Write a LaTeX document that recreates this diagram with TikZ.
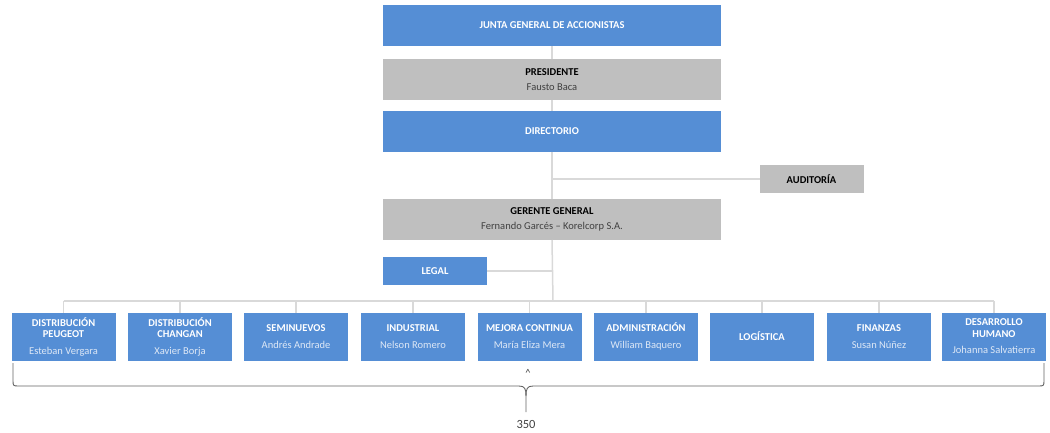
\documentclass[tikz,border=0pt]{standalone}
\usepackage{fontspec}
\setmainfont{Carlito}
\usepackage{tikz}

\definecolor{azulorg}{RGB}{85,142,213}
\definecolor{grisorg}{RGB}{191,191,191}
\definecolor{lineaorg}{RGB}{217,217,217}
\definecolor{nombreazul}{RGB}{222,232,246}
\definecolor{nombregris}{RGB}{64,64,64}
\definecolor{llaveorg}{RGB}{100,100,100}

\newcommand{\nomazul}[1]{{\mdseries\color{nombreazul}#1}}
\newcommand{\nomgris}[1]{{\mdseries\color{nombregris}#1}}

\tikzset{
	every node/.style={
		font=\fontsize{10.5}{11.5}\selectfont
	},
	caja/.style={
		shape=rectangle,
		inner sep=1pt,
		outer sep=0pt,
		align=center,
		font=\bfseries\fontsize{10.5}{11.5}\selectfont
	},
	azul/.style={
		caja,
		fill=azulorg,
		text=white
	},
	gris/.style={
		caja,
		fill=grisorg,
		text=black
	},
	ancho/.style={
		minimum width=338,
		minimum height=41
	},
	corto/.style={
		minimum width=104,
		minimum height=28
	},
	area/.style={
		minimum width=104,
		minimum height=48
	},
	linea/.style={
		draw=lineaorg,
		line width=1.5pt
	},
	llave/.style={
		draw=llaveorg,
		line width=0.9pt
	}
}

\begin{document}
\begin{tikzpicture}[x=1pt, y=-1pt]
	\useasboundingbox (0,0) rectangle (1050,432);
	
	% cabeza
	\node[azul, ancho] (junta) at (552,25.5) {JUNTA GENERAL DE ACCIONISTAS};
	\node[gris, ancho] (presidente) at (552,79.5) {PRESIDENTE\\[4pt]\nomgris{Fausto Baca}};
	\node[azul, ancho] (directorio) at (552,131.5) {DIRECTORIO};
	\node[gris, corto] (auditoria) at (811.5,179) {AUDITORÍA};
	\node[gris, ancho] (gerente) at (552,219.5) {GERENTE GENERAL\\[4pt]\nomgris{Fernando Garcés -- Korelcorp S.A.}};
	\node[azul, corto] (legal) at (435,271) {LEGAL};
	
	% areas
	\node[azul, area] (peugeot)    at (63.5,336.5) {DISTRIBUCIÓN\\PEUGEOT\\[5pt]\nomazul{Esteban Vergara}};
	\node[azul, area] (changan)    at (180,336.5)  {DISTRIBUCIÓN\\CHANGAN\\[5pt]\nomazul{Xavier Borja}};
	\node[azul, area] (seminuevos) at (296,336.5)  {SEMINUEVOS\\[5pt]\nomazul{Andrés Andrade}};
	\node[azul, area] (industrial) at (413,336.5)  {INDUSTRIAL\\[5pt]\nomazul{Nelson Romero}};
	\node[azul, area] (mejora)     at (529.5,336.5) {MEJORA CONTINUA\\[5pt]\nomazul{María Eliza Mera}};
	\node[azul, area] (admin)      at (646,336.5)  {ADMINISTRACIÓN\\[5pt]\nomazul{William Baquero}};
	\node[azul, area] (logistica)  at (762,336.5)  {LOGÍSTICA};
	\node[azul, area] (finanzas)   at (879,336.5)  {FINANZAS\\[5pt]\nomazul{Susan Núñez}};
	\node[azul, area] (humano)     at (994,336.5)  {DESARROLLO\\HUMANO\\[5pt]\nomazul{Johanna Salvatierra}};
	
	\coordinate (bus) at (553,301);
	
	\draw[linea] (junta.south) -- (presidente.north);
	\draw[linea] (presidente.south) -- (directorio.north);
	\draw[linea] (directorio.south) -- (gerente.north);
	\draw[linea] (gerente.south) -- (bus);
	\draw[linea] (directorio.south |- auditoria.west) -- (auditoria.west);
	\draw[linea] (legal.east) -- (legal.east -| bus);
	
	\draw[linea] (peugeot.north |- bus) -- (humano.north |- bus);
	\draw[linea] (peugeot.north) -- (peugeot.north |- bus);
	\draw[linea] (changan.north) -- (changan.north |- bus);
	\draw[linea] (seminuevos.north) -- (seminuevos.north |- bus);
	\draw[linea] (industrial.north) -- (industrial.north |- bus);
	\draw[linea] (mejora.north) -- (mejora.north |- bus);
	\draw[linea] (admin.north) -- (admin.north |- bus);
	\draw[linea] (logistica.north) -- (logistica.north |- bus);
	\draw[linea] (finanzas.north) -- (finanzas.north |- bus);
	\draw[linea] (humano.north) -- (humano.north |- bus);
	
	% llave
	\draw[llave] (13,363) -- (13,380) .. controls (13,386) .. (19,386) -- (519,386)
		.. controls (525,386) and (526,389) .. (526,396) -- (526,412);
	\draw[llave] (1044,363) -- (1044,380) .. controls (1044,386) .. (1038,386) -- (533,386)
		.. controls (527,386) and (526,389) .. (526,396);
	\node[text=nombregris] (marca) at (528,373) {\textasciicircum};
	\node[text=nombregris, font=\fontsize{12.5}{14}\selectfont] (total) at (526,424) {350};
\end{tikzpicture}
\end{document}
